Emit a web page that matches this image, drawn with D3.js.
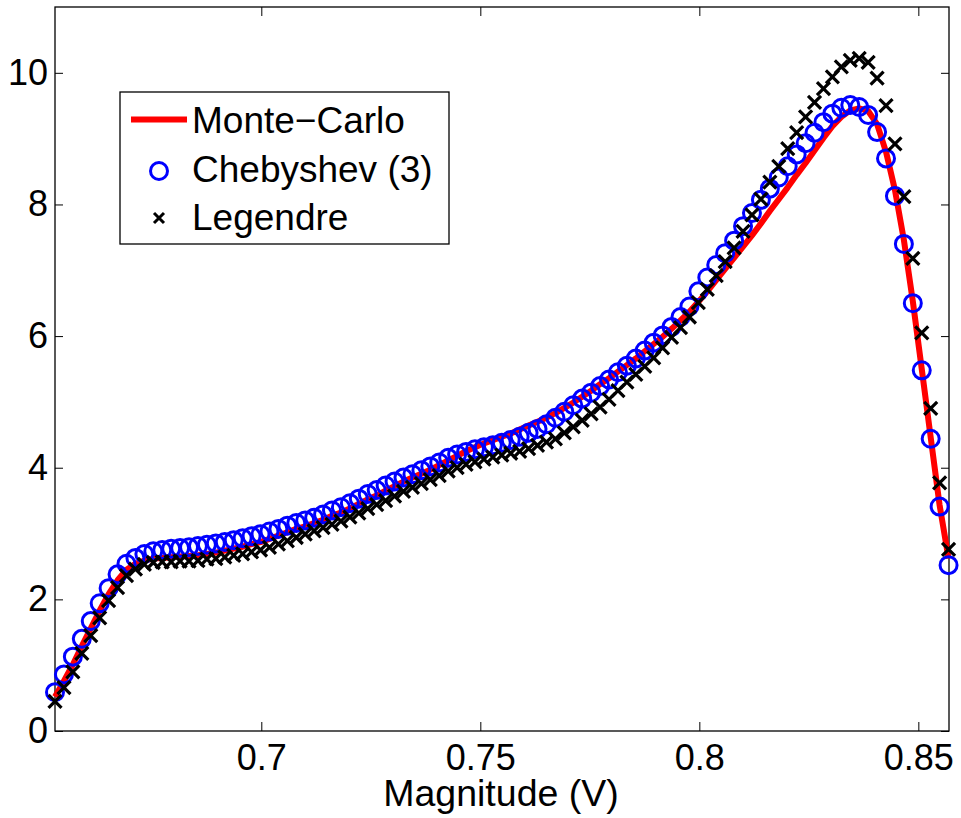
<!DOCTYPE html>
<html>
<head>
<meta charset="utf-8">
<script src="https://cdn.jsdelivr.net/npm/d3@7"></script>
<style>
  html, body { margin: 0; padding: 0; background: #fff; }
  svg { display: block; font-family: "Liberation Sans", Arial, Helvetica, sans-serif; }
</style>
</head>
<body>
<svg id="chart" width="961" height="818"></svg>
<script>
// Sample grid (magnitude, volts)
const magnitude = [
  0.65290, 0.65494, 0.65698, 0.65902, 0.66106, 0.66310, 0.66514, 0.66718, 0.66922, 0.67126,
  0.67330, 0.67534, 0.67738, 0.67942, 0.68146, 0.68350, 0.68554, 0.68758, 0.68962, 0.69166,
  0.69370, 0.69574, 0.69778, 0.69982, 0.70186, 0.70390, 0.70594, 0.70798, 0.71002, 0.71206,
  0.71410, 0.71614, 0.71818, 0.72022, 0.72226, 0.72430, 0.72634, 0.72838, 0.73042, 0.73246,
  0.73450, 0.73654, 0.73858, 0.74062, 0.74266, 0.74470, 0.74674, 0.74878, 0.75082, 0.75286,
  0.75490, 0.75694, 0.75898, 0.76102, 0.76306, 0.76510, 0.76714, 0.76918, 0.77122, 0.77326,
  0.77530, 0.77734, 0.77938, 0.78142, 0.78346, 0.78550, 0.78754, 0.78958, 0.79162, 0.79366,
  0.79570, 0.79774, 0.79978, 0.80182, 0.80386, 0.80590, 0.80794, 0.80998, 0.81202, 0.81406,
  0.81610, 0.81814, 0.82018, 0.82222, 0.82426, 0.82630, 0.82834, 0.83038, 0.83242, 0.83446,
  0.83650, 0.83854, 0.84058, 0.84262, 0.84466, 0.84670, 0.84874, 0.85078, 0.85282, 0.85486,
  0.85690
];

// Monte-Carlo reference density
const monteCarlo = [
  0.52, 0.76, 1.01, 1.29, 1.56, 1.83, 2.08, 2.29, 2.45, 2.54,
  2.59, 2.62, 2.63, 2.64, 2.65, 2.66, 2.67, 2.69, 2.71, 2.74,
  2.77, 2.80, 2.84, 2.87, 2.92, 2.97, 3.02, 3.07, 3.11, 3.16,
  3.21, 3.27, 3.32, 3.38, 3.45, 3.52, 3.58, 3.65, 3.72, 3.79,
  3.85, 3.91, 3.97, 4.04, 4.11, 4.18, 4.25, 4.31, 4.37, 4.42,
  4.47, 4.52, 4.58, 4.64, 4.70, 4.76, 4.83, 4.91, 4.99, 5.08,
  5.17, 5.27, 5.36, 5.46, 5.56, 5.66, 5.77, 5.88, 5.99, 6.11,
  6.24, 6.37, 6.52, 6.68, 6.85, 7.02, 7.19, 7.36, 7.53, 7.71,
  7.90, 8.08, 8.26, 8.45, 8.63, 8.82, 9.01, 9.19, 9.33, 9.43,
  9.46, 9.42, 9.22, 8.80, 8.22, 7.46, 6.53, 5.50, 4.46, 3.43,
  2.62
];

// Chebyshev expansion, order 3
const chebyshev = [
  0.59, 0.86, 1.13, 1.40, 1.67, 1.94, 2.17, 2.38, 2.54, 2.63,
  2.69, 2.73, 2.75, 2.77, 2.78, 2.79, 2.81, 2.83, 2.85, 2.87,
  2.90, 2.93, 2.96, 2.99, 3.03, 3.07, 3.12, 3.16, 3.20, 3.24,
  3.29, 3.35, 3.40, 3.46, 3.53, 3.60, 3.66, 3.73, 3.79, 3.85,
  3.90, 3.96, 4.02, 4.08, 4.15, 4.20, 4.24, 4.28, 4.31, 4.34,
  4.38, 4.42, 4.47, 4.53, 4.59, 4.66, 4.76, 4.85, 4.95, 5.05,
  5.14, 5.24, 5.34, 5.45, 5.55, 5.66, 5.78, 5.90, 6.01, 6.14,
  6.29, 6.45, 6.68, 6.89, 7.08, 7.26, 7.45, 7.67, 7.87, 8.07,
  8.24, 8.41, 8.58, 8.76, 8.93, 9.09, 9.25, 9.38, 9.47, 9.51,
  9.48, 9.36, 9.10, 8.70, 8.13, 7.40, 6.50, 5.48, 4.44, 3.41,
  2.52
];

// Legendre expansion
const legendre = [
  0.45, 0.66, 0.90, 1.18, 1.45, 1.72, 1.98, 2.18, 2.36, 2.46,
  2.53, 2.56, 2.57, 2.57, 2.58, 2.58, 2.59, 2.61, 2.62, 2.64,
  2.67, 2.69, 2.72, 2.75, 2.79, 2.84, 2.89, 2.94, 2.99, 3.04,
  3.09, 3.14, 3.19, 3.25, 3.31, 3.38, 3.44, 3.50, 3.57, 3.64,
  3.70, 3.76, 3.82, 3.88, 3.95, 4.00, 4.05, 4.09, 4.13, 4.16,
  4.19, 4.22, 4.25, 4.29, 4.34, 4.39, 4.44, 4.53, 4.62, 4.72,
  4.82, 4.92, 5.04, 5.17, 5.30, 5.42, 5.54, 5.67, 5.82, 5.98,
  6.13, 6.29, 6.51, 6.71, 6.92, 7.13, 7.34, 7.59, 7.84, 8.08,
  8.34, 8.58, 8.85, 9.09, 9.33, 9.55, 9.76, 9.94, 10.09, 10.19,
  10.22, 10.16, 9.92, 9.50, 8.92, 8.12, 7.18, 6.05, 4.90, 3.77,
  2.76
];

const xTicks = [0.7, 0.75, 0.8, 0.85];
const yTicks = [0, 2, 4, 6, 8, 10];
const xDomain = [0.6529, 0.8570];
const yDomain = [0, 11];
const seriesNames = ["Monte\u2212Carlo", "Chebyshev (3)", "Legendre"];
const xLabel = "Magnitude (V)";

const svg = d3.select("#chart");
const plot = { left: 55, right: 949, top: 7, bottom: 731 };
const tickFont = 36;
const labelFont = 37.5;

const x = d3.scaleLinear().domain(xDomain).range([plot.left, plot.right]);
const y = d3.scaleLinear().domain(yDomain).range([plot.bottom, plot.top]);

const points = magnitude.map((m, i) => ({ m, mc: monteCarlo[i], ch: chebyshev[i], lg: legendre[i] }));

// Axes with inward ticks on all four sides
function styleAxis(g) {
  g.select(".domain").remove();
  g.selectAll(".tick line").attr("stroke", "#000").attr("stroke-width", 1);
  g.selectAll(".tick text").attr("fill", "#000").style("font-size", tickFont + "px")
    .style("font-family", "'Liberation Sans', Arial, Helvetica, sans-serif");
}

svg.append("g").attr("transform", `translate(0,${plot.bottom})`)
  .call(d3.axisBottom(x).tickValues(xTicks).tickSize(-9).tickPadding(13).tickFormat(d3.format("")))
  .call(styleAxis);
svg.append("g").attr("transform", `translate(0,${plot.top})`)
  .call(d3.axisTop(x).tickValues(xTicks).tickSize(-9).tickFormat(""))
  .call(styleAxis);
svg.append("g").attr("transform", `translate(${plot.left},0)`)
  .call(d3.axisLeft(y).tickValues(yTicks).tickSize(-8).tickPadding(7).tickFormat(d3.format("")))
  .call(styleAxis);
svg.append("g").attr("transform", `translate(${plot.right},0)`)
  .call(d3.axisRight(y).tickValues(yTicks).tickSize(-8).tickFormat(""))
  .call(styleAxis);

// Frame
svg.append("rect")
  .attr("x", plot.left).attr("y", plot.top)
  .attr("width", plot.right - plot.left).attr("height", plot.bottom - plot.top)
  .attr("fill", "none").attr("stroke", "#000").attr("stroke-width", 1.3);

// Monte-Carlo line
svg.append("path")
  .datum(points)
  .attr("fill", "none")
  .attr("stroke", "#ff0000")
  .attr("stroke-width", 6)
  .attr("stroke-linejoin", "round")
  .attr("d", d3.line().x(d => x(d.m)).y(d => y(d.mc)));

// Chebyshev circles
svg.append("g").selectAll("circle")
  .data(points).join("circle")
  .attr("cx", d => x(d.m)).attr("cy", d => y(d.ch))
  .attr("r", 8.5)
  .attr("fill", "none").attr("stroke", "#0000ff").attr("stroke-width", 3);

// Legendre crosses
const cross = (s) => `M${-s},${-s}L${s},${s}M${-s},${s}L${s},${-s}`;
svg.append("g").selectAll("path")
  .data(points).join("path")
  .attr("transform", d => `translate(${x(d.m)},${y(d.lg)})`)
  .attr("d", cross(6.5))
  .attr("fill", "none").attr("stroke", "#000").attr("stroke-width", 3.2);

// X axis label
svg.append("text")
  .attr("x", (plot.left + plot.right) / 2 - 1).attr("y", 806)
  .attr("text-anchor", "middle")
  .style("font-size", labelFont + "px")
  .text(xLabel);

// Legend
const legend = svg.append("g");
legend.append("rect")
  .attr("x", 120).attr("y", 92).attr("width", 329).attr("height", 152)
  .attr("fill", "#fff").attr("stroke", "#000").attr("stroke-width", 1.3);
const rowY = [119.5, 171, 218];
const textY = [133, 182, 230];
legend.append("line")
  .attr("x1", 131).attr("x2", 187).attr("y1", rowY[0]).attr("y2", rowY[0])
  .attr("stroke", "#ff0000").attr("stroke-width", 6);
legend.append("circle")
  .attr("cx", 159).attr("cy", rowY[1]).attr("r", 8.5)
  .attr("fill", "none").attr("stroke", "#0000ff").attr("stroke-width", 3);
legend.append("path")
  .attr("transform", `translate(159,${rowY[2]})`)
  .attr("d", cross(5))
  .attr("fill", "none").attr("stroke", "#000").attr("stroke-width", 3);
legend.selectAll("text.lbl")
  .data(seriesNames).join("text")
  .attr("class", "lbl")
  .attr("x", 192).attr("y", (d, i) => textY[i])
  .style("font-size", "37px")
  .text(d => d);
</script>
</body>
</html>
